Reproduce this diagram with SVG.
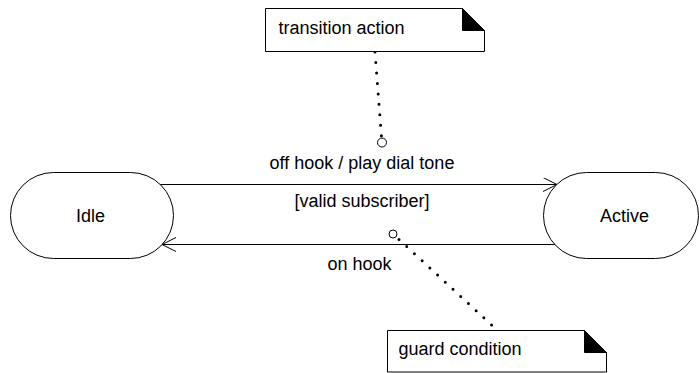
<svg xmlns="http://www.w3.org/2000/svg" width="699" height="373" viewBox="0 0 699 373">
<style>
text{font-family:"Liberation Sans",Arial,sans-serif;font-size:18px;fill:#000;text-anchor:middle}
.state{fill:#fff;stroke:#000;stroke-width:1}
.note{fill:#fff;stroke:#000;stroke-width:1}
.fold{fill:#000;stroke:#000;stroke-width:1}
.edge{fill:none;stroke:#000;stroke-width:1}
.dot{fill:none;stroke:#000;stroke-width:3;stroke-linecap:round;stroke-dasharray:0 10.5}
.anchor{fill:#fff;stroke:#000;stroke-width:1}
</style>
<defs>
<marker id="open" markerWidth="16" markerHeight="16" refX="14" refY="7" orient="auto" markerUnits="userSpaceOnUse">
<path d="M0,0 L14,7 L0,14" fill="none" stroke="#000" stroke-width="1"/>
</marker>
</defs>
<g id="connectors">
<line class="edge" x1="160" y1="184.5" x2="557" y2="184.5" marker-end="url(#open)"/>
<line class="edge" x1="555" y1="244.5" x2="162" y2="244.5" marker-end="url(#open)"/>
<line class="dot" x1="375" y1="52" x2="381.5" y2="137"/>
<line class="dot" x1="399" y1="239.5" x2="497" y2="330"/>
<circle class="anchor" cx="382" cy="142.5" r="4.5"/>
<circle class="anchor" cx="393" cy="234" r="4"/>
<text x="362" y="169">off hook / play dial tone</text>
<text x="362" y="207">[valid subscriber]</text>
<text x="359.5" y="270">on hook</text>
</g>
<g id="idle">
<rect class="state" x="10.5" y="172.5" width="163" height="86" rx="43" ry="43"/>
<text x="90.5" y="222">Idle</text>
</g>
<g id="active">
<rect class="state" x="543.5" y="172.5" width="155" height="86" rx="43" ry="43"/>
<text x="624.5" y="222">Active</text>
</g>
<g id="note-transition">
<path class="note" d="M265.5,8.5 H462.5 L484.5,30.5 V51.5 H265.5 Z"/>
<path class="fold" d="M462.5,8.5 L484.5,30.5 H462.5 Z"/>
<text x="341.5" y="34">transition action</text>
</g>
<g id="note-guard">
<path class="note" d="M387.5,330.5 H584.5 L606.5,352.5 V372 H387.5 Z"/>
<path class="fold" d="M584.5,330.5 L606.5,352.5 H584.5 Z"/>
<text x="460" y="355">guard condition</text>
</g>
</svg>
